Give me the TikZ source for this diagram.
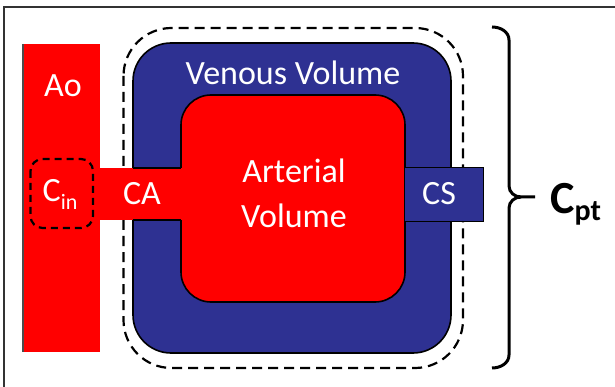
\documentclass[tikz,border=0pt]{standalone}
\usepackage{fontspec}
\setmainfont{Carlito}
\definecolor{artred}{RGB}{255,0,0}
\definecolor{veinblue}{RGB}{46,49,146}
\begin{document}
\begin{tikzpicture}[x=1pt,y=-1pt,
  lbl/.style={text=white,font=\fontsize{34}{40}\selectfont,inner sep=0pt,anchor=base},
  outline/.style={draw=black,line width=1.6pt},
  dashline/.style={draw=black,line width=2.2pt,dash pattern=on 10pt off 6pt},
  brace/.style={draw=black,line width=3pt},
]
\useasboundingbox (0,0) rectangle (615,387);
\fill[white] (0,0) rectangle (615,387);
% frame edges
\draw[line width=2pt,draw=black!80] (3.5,387) -- (3.5,7) -- (615,7);
% dashed compartment boundary
\draw[dashline,rounded corners=48pt] (123.5,28) rectangle (463,368);
% venous volume
\filldraw[fill=veinblue,outline,rounded corners=38pt] (133,43) rectangle (451,353);
% arterial volume
\filldraw[fill=artred,outline,rounded corners=30pt] (181,95) rectangle (405,302);
% aorta
\fill[artred] (23,44) rectangle (100,352);
\draw[black!70,line width=1.2pt] (23,44) -- (23,352);
% coronary artery connection
\fill[artred] (99,168) rectangle (183,220);
\draw[line width=1.2pt] (133,168) -- (181,168) (133,220) -- (181,220);
% coronary sinus
\filldraw[fill=veinblue,draw=black,line width=1pt] (404,168) rectangle (483,222);
% inlet compliance
\draw[dashline,dash pattern=on 7pt off 5pt,rounded corners=12pt] (30.5,159) rectangle (93,228);
% brace
\draw[brace] (492,27) to[out=0,in=90] (509,40) -- (509,186) to[out=-90,in=180] (521,197) -- (535,197);
\draw[brace] (492,368) to[out=0,in=-90] (509,355) -- (509,208) to[out=90,in=180] (521,197);
% labels
\node[lbl] (ao) at (63,97) {Ao};
\node[lbl] (ven) at (293,85) {Venous Volume};
\node[lbl] (art1) at (294,183) {Arterial};
\node[lbl] (art2) at (294,228) {Volume};
\node[lbl] (ca) at (142,205) {CA};
\node[lbl] (cs) at (439,205) {CS};
\node[lbl] (cin) at (60,202) {C\raisebox{-8pt}{\fontsize{22}{22}\selectfont in}};
\node[inner sep=0pt,anchor=base west,font=\fontsize{46}{50}\selectfont\bfseries] (cpt) at (550,214) {C\raisebox{-7pt}{\fontsize{30}{30}\selectfont pt}};
\end{tikzpicture}
\end{document}
